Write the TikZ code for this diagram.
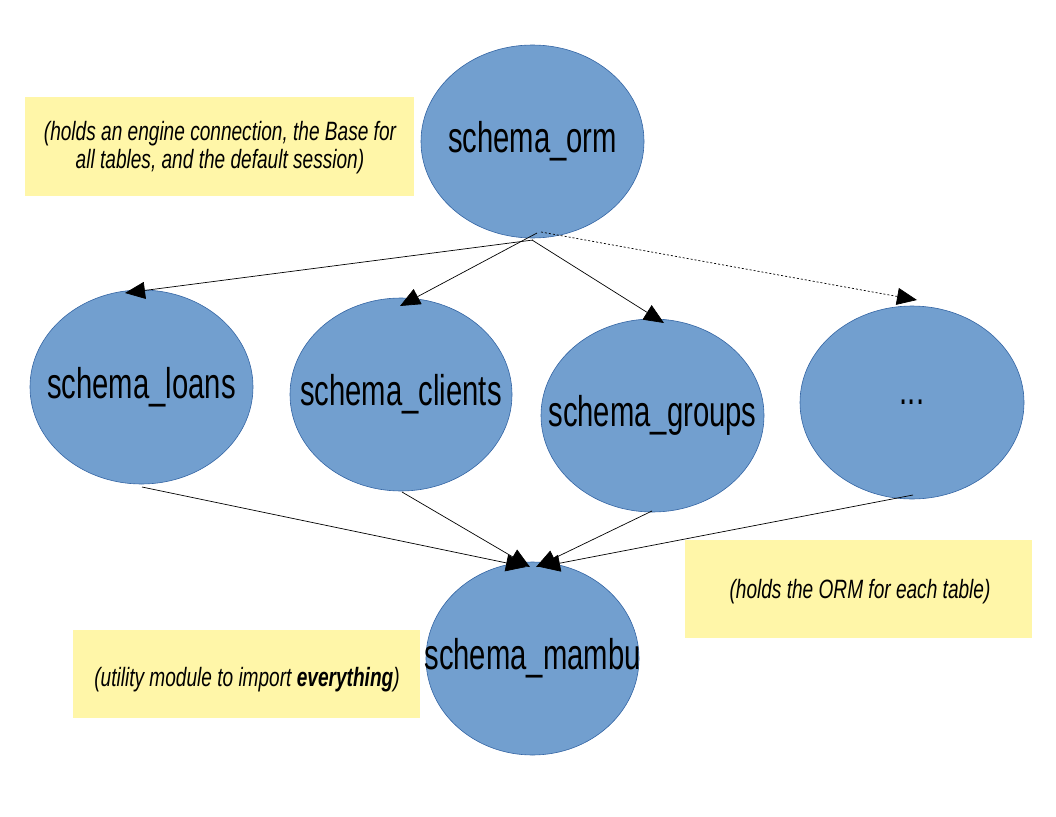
\documentclass[tikz,border=0pt]{standalone}
\usepackage{fontspec}
\setmainfont[FakeStretch=0.68]{Liberation Sans}
\newfontfamily\notefont[FakeStretch=0.72]{Liberation Sans}
\usetikzlibrary{shapes.geometric,arrows.meta}
\definecolor{ellfill}{HTML}{729FCF}
\definecolor{elldraw}{HTML}{3465A4}
\definecolor{notefill}{HTML}{FFF6A8}
\newcommand{\ztext}[1]{\makebox[0pt]{#1}}
\tikzset{
  module/.style={ellipse, fill=ellfill, draw=elldraw, line width=0.6pt, inner sep=0pt,
    font=\fontsize{43}{50}\selectfont},
  note/.style={fill=notefill, inner sep=0pt},
  notetext/.style={inner sep=0pt, align=center,
    font=\notefont\fontsize{26.5}{28}\selectfont\itshape},
  link/.style={line width=0.7pt, -{Triangle[length=20pt,width=17pt]}},
  dotlink/.style={link, dash pattern=on 2pt off 2pt}
}
\begin{document}
\begin{tikzpicture}[x=1pt,y=-1pt]
\useasboundingbox (0,0) rectangle (1056,816);
% notes
\node[note, minimum width=389pt, minimum height=99pt] (n1) at (219.5,146.5) {};
\node[notetext] (n1t) at (220,148)
  {(holds an engine connection, the Base for\\all tables, and the default session)};
\node[note, minimum width=347pt, minimum height=98pt] (n2) at (858.5,589) {};
\node[notetext] (n2t) at (860,592) {(holds the ORM for each table)};
\node[note, minimum width=347pt, minimum height=88pt] (n3) at (246.5,674) {};
\node[notetext] (n3t) at (247,680) {(utility module to import \textbf{everything})};
% modules
\node[module, minimum width=223pt, minimum height=193pt] (orm) at (532.5,141.5) {\ztext{schema\_orm}};
\node[module, minimum width=223pt, minimum height=194pt] (loans) at (141.5,387) {\ztext{schema\_loans}};
\node[module, minimum width=222pt, minimum height=193pt] (clients) at (401,394.5) {\ztext{schema\_clients}};
\node[module, minimum width=223pt, minimum height=193pt] (groups) at (652.5,415.5) {\ztext{schema\_groups}};
\node[module, minimum width=224pt, minimum height=193pt] (more) at (912,402.5) {\ztext{...}};
\node[module, minimum width=213pt, minimum height=193pt] (mambu) at (532.5,658.5) {\ztext{schema\_mambu}};
% connector end points
\coordinate (oA) at (533,240);
\coordinate (oB) at (537,233);
\coordinate (oC) at (532,240);
\coordinate (oD) at (541,232);
\coordinate (tA) at (125,293);
\coordinate (tB) at (400,306);
\coordinate (tC) at (664,323);
\coordinate (tD) at (917,300);
\coordinate (sA) at (142,487);
\coordinate (sB) at (402,492);
\coordinate (sC) at (652,511);
\coordinate (sD) at (913,495);
\coordinate (mA) at (526,567);
\coordinate (mB) at (530,567);
\coordinate (mC) at (536,567);
\coordinate (mD) at (540,567);
% connectors
\draw[link] (oA) -- (tA);
\draw[link] (oB) -- (tB);
\draw[link] (oC) -- (tC);
\draw[dotlink] (oD) -- (tD);
\draw[link] (sA) -- (mA);
\draw[link] (sB) -- (mB);
\draw[link] (sC) -- (mC);
\draw[link] (sD) -- (mD);
\end{tikzpicture}
\end{document}
